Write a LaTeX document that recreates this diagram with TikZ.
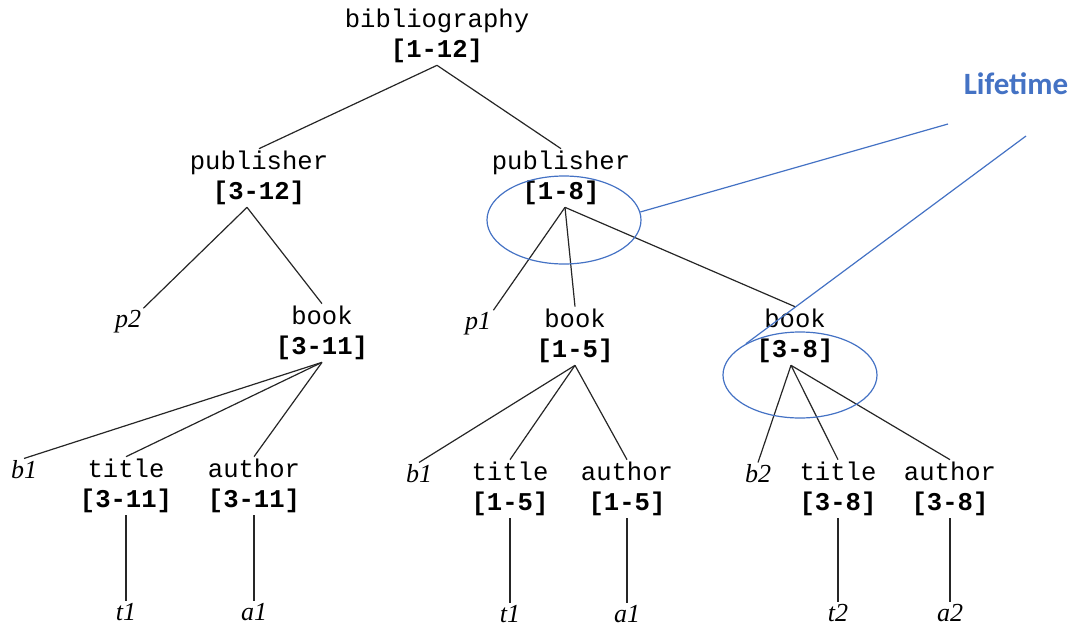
\documentclass[tikz,border=0pt]{standalone}
\usepackage{fontspec}
\setmainfont{Liberation Serif}
\setmonofont{Liberation Mono}
\newfontfamily\lifefont{Carlito}
\usetikzlibrary{shapes.geometric}
\definecolor{lifeblue}{HTML}{4472C4}
\begin{document}
\begin{tikzpicture}[x=0.5pt,y=-0.5pt,
  tnode/.style={font=\ttfamily\fontsize{12.8}{15}\selectfont, align=center, inner sep=1pt},
  leaf/.style={font=\itshape\fontsize{13}{15}\selectfont, inner sep=1pt},
  edge/.style={draw=black!85, line width=0.6pt},
  life/.style={draw=lifeblue, line width=0.6pt},
  lifeell/.style={ellipse, draw=lifeblue, line width=0.6pt, inner sep=0pt}]
\useasboundingbox (0,0) rectangle (1071,627);
% tree nodes
\node[tnode] (root) at (437,36) {bibliography\\\textbf{[1-12]}};
\node[tnode] (pubL) at (259,178) {publisher\\\textbf{[3-12]}};
\node[tnode] (pubR) at (561,178) {publisher\\\textbf{[1-8]}};
\node[leaf] (p2) at (128,322) {p2};
\node[tnode] (bookL) at (322,333) {book\\\textbf{[3-11]}};
\node[leaf] (p1) at (478,324) {p1};
\node[tnode] (bookM) at (575,336) {book\\\textbf{[1-5]}};
\node[tnode] (bookR) at (795,336) {book\\\textbf{[3-8]}};
\node[leaf] (b1L) at (24,470) {b1};
\node[tnode] (titleL) at (126,486) {title\\\textbf{[3-11]}};
\node[tnode] (authL) at (254,486) {author\\\textbf{[3-11]}};
\node[leaf] (t1L) at (126,612) {t1};
\node[leaf] (a1L) at (254,612) {a1};
\node[leaf] (b1M) at (419,474) {b1};
\node[tnode] (titleM) at (510,489) {title\\\textbf{[1-5]}};
\node[tnode] (authM) at (627,489) {author\\\textbf{[1-5]}};
\node[leaf] (t1M) at (510,614) {t1};
\node[leaf] (a1M) at (627,614) {a1};
\node[leaf] (b2) at (758,474) {b2};
\node[tnode] (titleR) at (838,489) {title\\\textbf{[3-8]}};
\node[tnode] (authR) at (950,489) {author\\\textbf{[3-8]}};
\node[leaf] (t2) at (838,613) {t2};
\node[leaf] (a2) at (950,613) {a2};
% edges
\draw[edge] (root.south) -- (pubL.north);
\draw[edge] (root.south) -- (pubR.north);
\draw[edge] ([xshift=-6]pubL.south) -- (p2.north east);
\draw[edge] ([xshift=-6]pubL.south) -- (bookL.north);
\draw[edge] ([xshift=2]pubR.south) -- (p1.north east);
\draw[edge] ([xshift=2]pubR.south) -- (bookM.north);
\draw[edge] ([xshift=2]pubR.south) -- (bookR.north);
\draw[edge] (bookL.south) -- (b1L.north);
\draw[edge] (bookL.south) -- (titleL.north);
\draw[edge] (bookL.south) -- (authL.north);
\draw[edge] (bookM.south) -- (b1M.north);
\draw[edge] (bookM.south) -- (titleM.north);
\draw[edge] (bookM.south) -- (authM.north);
\draw[edge] ([xshift=-2]bookR.south) -- (b2.north);
\draw[edge] ([xshift=-2]bookR.south) -- (titleR.north);
\draw[edge] ([xshift=-2]bookR.south) -- (authR.north);
\draw[edge] (titleL.south) -- (t1L.north);
\draw[edge] (authL.south) -- (a1L.north);
\draw[edge] (titleM.south) -- (t1M.north);
\draw[edge] (authM.south) -- (a1M.north);
\draw[edge] (titleR.south) -- (t2.north);
\draw[edge] (authR.south) -- (a2.north);
% lifetime annotation
\node[lifeell, minimum width=77pt, minimum height=44pt] (ell1) at (564,220) {};
\node[lifeell, minimum width=77pt, minimum height=43pt] (ell2) at (800,375) {};
\node[font=\lifefont\bfseries\fontsize{15.5}{18}\selectfont, text=lifeblue] (life) at (1016,84) {Lifetime};
\coordinate (le1) at (948,124);
\coordinate (le2) at (1026,136);
\draw[life] (ell1.6) -- (le1);
\draw[life] (ell2.150) -- (le2);
\end{tikzpicture}
\end{document}
